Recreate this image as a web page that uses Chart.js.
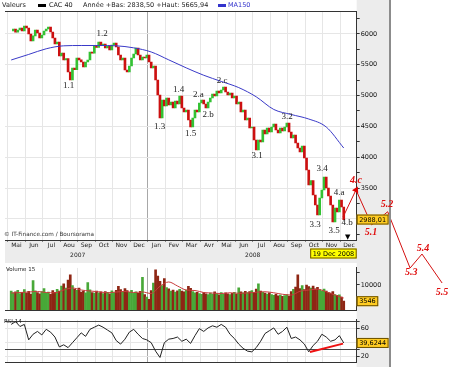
<!DOCTYPE html>
<html>
<head>
<meta charset="utf-8">
<script src="https://cdn.jsdelivr.net/npm/chart.js@4.4.1/dist/chart.umd.min.js"></script>
<style>
html,body{margin:0;padding:0;background:#fff;}
#wrap{position:relative;width:450px;height:367px;overflow:hidden;background:#fff;}
canvas{position:absolute;left:0;display:block;}
.t{position:absolute;white-space:nowrap;font-family:"DejaVu Sans",sans-serif;color:#222;line-height:1;font-size:6.5px;}
.ico{position:absolute;width:8px;height:3px;}
</style>
</head>
<body>
<div id="wrap">
  <canvas id="volCanvas" width="450" height="52" style="top:263px"></canvas>
  <canvas id="rsiCanvas" width="450" height="52" style="top:315px"></canvas>
  <canvas id="priceCanvas" width="450" height="300" style="top:0"></canvas>
  <div class="t" style="left:2px;top:2px">Valeurs</div>
  <div class="ico" style="left:38px;top:4px;background:#000"></div>
  <div class="t" id="serName" style="left:49px;top:2px"></div>
  <div class="t" id="yearRange" style="left:83px;top:2px"></div>
  <div class="ico" style="left:218px;top:4px;background:#3333cc"></div>
  <div class="t" id="maName" style="left:228px;top:2px;color:#3333cc"></div>
</div>
<script>
// ---------------- data ----------------
const seriesName = 'CAC 40';
const maName = 'MA150';
const yearLow = '2838,50', yearHigh = '5665,94';
const lastDateLabel = '19 Dec 2008';

const monthLabels = ['Mai','Jun','Jul','Aou','Sep','Oct','Nov','Dec','Jan','Fev','Mar','Avr','Mai','Jun','Jul','Aou','Sep','Oct','Nov','Dec'];
const yearLabels = ['2007','2008'];
const yearStartIndex = [0, 8];
const priceTickValues = [2750,3000,3250,3500,3750,4000,4250,4500,4750,5000,5250,5500,5750,6000,6250];
const volumeTickValues = [5000,10000,15000];
const rsiTickValues = [20,30,40,60,70];
const rsiRefLevels = [30,70];

// x unit: months after 1 May 2007
const seriesStart = 0.2;
const closeStep = 0.125;
const closes = [
6049,6080,6030,6065,6097,6049,6130,6097,6000,5886,
5968,6065,6016,5935,5984,6049,6081,6114,6032,5935,
5838,5870,5643,5691,5578,5600,5383,5253,5448,5420,
5610,5580,5545,5465,5545,5578,5708,5690,5805,5780,
5870,5821,5838,5773,5805,5740,5821,5854,5789,5659,
5578,5610,5416,5383,5481,5610,5675,5773,5659,5578,
5627,5610,5659,5545,5448,5480,5253,5010,4636,4929,
4831,4961,4847,4896,4799,4912,4864,4994,4799,4734,
4766,4604,4490,4636,4766,4734,4880,4929,4864,4799,
4896,4961,5026,4994,5075,5042,5091,5140,5058,5010,
5042,4961,4994,4864,4896,4734,4766,4604,4636,4474,
4490,4279,4117,4279,4250,4442,4377,4474,4409,4490,
4539,4442,4393,4474,4425,4490,4555,4409,4312,4360,
4230,4149,4084,4182,3987,3792,3549,3620,3386,3224,
3062,3338,3467,3679,3500,3370,3224,2948,3175,3110,
3305,3192,2988.01];

const volumes = [
7600,6900,7300,7900,6600,7100,8200,6800,7500,6400,
11800,7700,7000,6500,7400,8600,6900,7200,6300,7800,
7100,8300,7600,9600,10500,8800,12000,14000,9800,8400,
7900,8800,7200,7600,6900,11000,8100,7000,6800,7600,
6900,7300,6600,7400,7100,6500,7700,7000,7900,9500,
8200,7400,8600,7800,7100,7900,6800,7300,6700,7500,
13000,6200,5200,4300,7800,10800,16000,13500,11500,9800,
12500,9000,8500,7600,8000,7200,7700,8300,7600,7300,
8000,9500,8700,7400,6900,7100,6600,6300,7000,6500,
6200,6800,6400,7300,6600,6100,7000,6300,6900,6500,
6200,6700,7100,6400,8900,7300,6900,7500,7000,7400,
7800,7100,8400,10500,7600,7100,6800,6400,6900,6200,
5900,6300,5700,6000,5500,5800,6200,5600,7400,8300,
9200,14000,8600,9800,8200,10000,9400,8800,9600,8500,
9100,8200,7700,8400,7600,7000,6800,7400,6200,5900,
6100,5200,3546];

const maStep = 1;
const ma150 = [5578,5668,5760,5808,5813,5813,5808,5775,5708,5580,
               5450,5330,5230,5130,4980,4775,4693,4620,4490,4149];

const volMaStep = 0.5;
const volMa15 = [6800,7000,7200,7400,7000,6900,8000,8800,8000,7600,
                 7300,6900,7200,7400,7000,7200,6600,9500,11200,9600,
                 8000,7800,7000,6800,6600,6900,6700,6800,7100,7300,
                 6900,6300,6000,7500,8000,8300,7300,6000,4800];

const rsiStep = 0.25;
const rsi14 = [66,70,63,66,44,52,56,51,59,55,
               48,34,37,33,40,47,54,49,59,62,
               65,62,58,54,43,38,45,55,59,52,
               46,44,40,28,19,40,45,46,48,42,
               45,39,50,60,56,61,64,62,66,62,
               52,46,38,32,28,27,33,42,53,57,
               61,52,56,62,46,48,44,38,27,36,
               42,52,48,42,44,50,39.6244];

const rsiTrendMonths = [17.27, 19.16];
const rsiTrendValues = [26.7, 38.7];

const waveNames  = ['1.1','1.2','1.3','1.4','1.5','2.a','2.b','2.c','3.1','3.2','3.3','3.4','3.5','4.a','4.b'];
const waveMonths = [3.48,5.4,8.68,9.76,10.45,10.9,11.45,12.25,14.25,15.97,17.56,17.96,18.65,18.93,19.39];
const wavePrices = [5155,6008,4498,5091,4377,5010,4685,5237,4020,4653,2900,3808,2802,3419,2932];

const projMonths = [19.16,19.9,20.8,21.71,22.99,23.67,24.82];
const projPrices = [3029,3468,2900,3115,2201,2428,1958];
const projArrow = [0,1,0,0,0,0,1];
const projArrowRotation = [0,26,0,0,0,0,147];
const projLabelNames  = ['4.c','5.1','5.2','5.3','5.4','5.5'];
const projLabelMonths = [19.9,20.76,21.67,23.05,23.73,24.81];
const projLabelPrices = [3630,2786,3240,2136,2526,1812];

// ---------------- setup ----------------
document.getElementById('serName').textContent = seriesName;
document.getElementById('maName').textContent = maName;
document.getElementById('yearRange').textContent = 'Année +Bas: ' + yearLow + ' +Haut: ' + yearHigh;

Chart.defaults.font.family = '"DejaVu Sans", sans-serif';
const X_MIN = -0.154, X_MAX = 19.94, AXIS_W = 93.3, PANEL_RIGHT = 389;
const GREEN = '#33c233', RED = '#cc1010', GRID = '#e6e6e6', JAN_GRID = '#a8a8a8';
const janIdx = monthLabels.indexOf('Jan');
const fmt = v => String(v).replace('.', ',');

function monthGridAxis(extra) {
  return Object.assign({
    type: 'linear', bounds: 'data', offset: false,
    afterDataLimits: s => { s.min = X_MIN; s.max = X_MAX; },
    afterBuildTicks: s => { s.ticks = monthLabels.map((_, k) => ({value: k + 0.5})); },
    grid: { offset: true, color: c => c.index === janIdx ? JAN_GRID : GRID, drawTicks: false },
    border: { display: true, color: '#333' },
    ticks: { display: false, autoSkip: false }
  }, extra || {});
}

const frame = {
  id: 'frame',
  beforeDraw(chart, _a, o) {
    const {ctx, chartArea: a} = chart;
    ctx.save();
    ctx.fillStyle = '#ececec';
    ctx.fillRect(a.right, 0, PANEL_RIGHT - a.right, o.grayHeight || chart.height);
    if (o.band) ctx.fillRect(a.left, a.bottom, PANEL_RIGHT - a.left, o.band);
    ctx.fillStyle = '#fff';
    ctx.fillRect(a.left, a.top, a.width, a.height);
    ctx.restore();
  },
  afterDraw(chart, _a, o) {
    const {ctx, chartArea: a} = chart;
    ctx.save();
    ctx.strokeStyle = '#8c8c8c'; ctx.lineWidth = 2;
    ctx.beginPath(); ctx.moveTo(PANEL_RIGHT + 1, 0); ctx.lineTo(PANEL_RIGHT + 1, o.grayHeight || chart.height); ctx.stroke();
    if (o.topBorder) {
      ctx.strokeStyle = '#333'; ctx.lineWidth = 1;
      ctx.beginPath(); ctx.moveTo(a.left, a.top + 0.5); ctx.lineTo(a.right, a.top + 0.5); ctx.stroke();
    }
    (o.texts || []).forEach(t => {
      ctx.font = t.font; ctx.fillStyle = t.color || '#222';
      ctx.textAlign = 'left'; ctx.textBaseline = 'middle';
      ctx.fillText(t.text, t.x, t.y);
    });
    (o.boxes || []).forEach(b => {
      const y = b.y !== undefined ? b.y : chart.scales[b.scale].getPixelForValue(b.value);
      ctx.font = '6.5px "DejaVu Sans"';
      const w = ctx.measureText(b.text).width + 5;
      const x = b.alignRight ? a.right - w : a.right;
      ctx.fillStyle = b.fill; ctx.fillRect(x, y - 5, w, 10);
      ctx.strokeStyle = '#6b5000'; ctx.lineWidth = 1; ctx.strokeRect(x + 0.5, y - 4.5, w - 1, 9);
      ctx.fillStyle = '#000'; ctx.textAlign = 'left'; ctx.textBaseline = 'middle';
      ctx.fillText(b.text, x + 2.5, y + 0.5);
    });
    ctx.restore();
  }
};

const waveText = {
  id: 'waveText',
  afterDraw(chart, _a, o) {
    if (!o.groups) return;
    const {ctx} = chart; const xs = chart.scales.x, ys = chart.scales.y;
    ctx.save();
    o.groups.forEach(g => {
      ctx.font = g.font; ctx.fillStyle = g.color; ctx.textAlign = 'center'; ctx.textBaseline = 'middle';
      g.names.forEach((n, i) => ctx.fillText(n, xs.getPixelForValue(g.months[i]), ys.getPixelForValue(g.prices[i])));
    });
    ctx.restore();
  }
};

// ---------------- price chart ----------------
const priceBars = [];
for (let i = 1; i < closes.length; i++) priceBars.push({x: seriesStart + i * closeStep, y: [closes[i - 1], closes[i]]});
const yearCenters = yearLabels.map((_, k) => (yearStartIndex[k] + (k + 1 < yearStartIndex.length ? yearStartIndex[k + 1] : monthLabels.length)) / 2);

new Chart(document.getElementById('priceCanvas'), {
  type: 'bar',
  data: {
    datasets: [
      { type: 'line', label: 'proj', data: projMonths.map((m, i) => ({x: m, y: projPrices[i]})),
        borderColor: '#d41010', borderWidth: 1, tension: 0, clip: false,
        pointStyle: 'triangle', pointRadius: projArrow.map(a => a ? 4 : 0), pointRotation: projArrowRotation,
        pointBackgroundColor: '#e00000', pointBorderColor: '#e00000', pointBorderWidth: 0 },
      { type: 'line', label: maName, data: ma150.map((v, k) => ({x: seriesStart + k * maStep, y: v})),
        borderColor: '#3a3ac8', borderWidth: 1, pointRadius: 0, cubicInterpolationMode: 'monotone' },
      { type: 'bar', label: seriesName, data: priceBars, barThickness: 2, minBarLength: 1,
        backgroundColor: c => (c.raw && c.raw.y[1] >= c.raw.y[0]) ? GREEN : RED }
    ]
  },
  options: {
    responsive: false, animation: false, devicePixelRatio: 1,
    layout: { padding: { left: 5, top: 11, right: 0, bottom: 37 } },
    plugins: {
      legend: { display: false }, tooltip: { enabled: false },
      frame: { grayHeight: 263, band: 23, topBorder: true,
        texts: [ { text: '© IT-Finance.com / Boursorama', x: 4, y: 235, font: '5.7px "DejaVu Sans"', color: '#333' },
                 { text: '▼', x: 345, y: 237, font: '7px "DejaVu Sans"', color: '#000' } ],
        boxes: [ { scale: 'y', value: closes[closes.length - 1], text: fmt(closes[closes.length - 1].toFixed(2)), fill: '#ffcc22' },
                 { y: 253.5, alignRight: true, text: lastDateLabel, fill: '#ffff00' } ] },
      waveText: { groups: [
        { names: waveNames, months: waveMonths, prices: wavePrices, font: '9px "Liberation Serif"', color: '#222' },
        { names: projLabelNames, months: projLabelMonths, prices: projLabelPrices, font: 'italic bold 10px "Liberation Serif"', color: '#e01010' } ] }
    },
    scales: {
      x: monthGridAxis({
        position: 'bottom', weight: 0,
        afterFit: s => { s.height = 10; },
        grid: { offset: true, color: c => c.index === janIdx ? JAN_GRID : GRID, drawTicks: true, tickLength: 2, tickColor: '#888' },
        ticks: { display: true, autoSkip: false, maxRotation: 0, padding: 0, color: '#222', font: { size: 6 },
                 callback: (v, k) => monthLabels[k] }
      }),
      x2: { type: 'linear', position: 'bottom', weight: 1, offset: false, min: X_MIN, max: X_MAX, bounds: 'data',
        afterBuildTicks: s => { s.ticks = yearCenters.map(v => ({value: v})); },
        afterFit: s => { s.height = 13; },
        grid: { display: false, drawTicks: false, offset: false }, border: { display: false },
        ticks: { autoSkip: false, maxRotation: 0, padding: 2, color: '#222', font: { size: 6 }, callback: (v, k) => yearLabels[k] } },
      y: { position: 'right', min: 2656, max: 6373,
        afterBuildTicks: s => { s.ticks = priceTickValues.map(v => ({value: v})); },
        afterFit: s => { s.width = AXIS_W; },
        grid: { color: c => (c.tick && c.tick.value % 500 === 0) ? GRID : 'rgba(0,0,0,0)', tickColor: '#333', tickLength: 3 },
        border: { display: true, color: '#333' },
        ticks: { autoSkip: false, padding: 1, color: '#111', font: { size: 6.5 }, callback: v => (v % 500 === 0 ? String(v) : '') } }
    }
  },
  plugins: [frame, waveText]
});

// ---------------- volume chart ----------------
const volBars = volumes.map((v, i) => ({x: seriesStart + i * closeStep, y: v, up: i === 0 || closes[i] >= closes[i - 1]}));
new Chart(document.getElementById('volCanvas'), {
  type: 'bar',
  data: {
    datasets: [
      { type: 'line', data: volMa15.map((v, k) => ({x: seriesStart + k * volMaStep, y: v})),
        borderColor: '#c83c3c', borderWidth: 1, pointRadius: 0, cubicInterpolationMode: 'monotone' },
      { type: 'bar', data: volBars, barThickness: 2,
        backgroundColor: c => (c.raw && c.raw.up) ? '#48a838' : '#8e2614' }
    ]
  },
  options: {
    responsive: false, animation: false, devicePixelRatio: 1,
    layout: { padding: { left: 5, top: 1, right: 0, bottom: 4 } },
    plugins: { legend: { display: false }, tooltip: { enabled: false },
      frame: { texts: [ { text: 'Volume 15', x: 6, y: 7, font: '5.5px "DejaVu Sans"', color: '#222' } ],
               boxes: [ { scale: 'y', value: volumes[volumes.length - 1], text: String(volumes[volumes.length - 1]), fill: '#ffcc22' } ] } },
    scales: {
      x: monthGridAxis({ afterFit: s => { s.height = 0; } }),
      y: { position: 'right', min: 0, max: 16800,
        afterBuildTicks: s => { s.ticks = volumeTickValues.map(v => ({value: v})); },
        afterFit: s => { s.width = AXIS_W; },
        grid: { color: 'rgba(0,0,0,0)', tickColor: '#333', tickLength: 3 },
        border: { display: true, color: '#333' },
        ticks: { autoSkip: false, padding: 1, color: '#111', font: { size: 6.5 }, callback: v => (v === 10000 ? String(v) : '') } }
    }
  },
  plugins: [frame]
});

// ---------------- RSI chart ----------------
new Chart(document.getElementById('rsiCanvas'), {
  type: 'line',
  data: {
    datasets: [
      { data: rsiTrendMonths.map((m, i) => ({x: m, y: rsiTrendValues[i]})), borderColor: '#ee1111', borderWidth: 2, pointRadius: 0 },
      { data: rsi14.map((v, k) => ({x: seriesStart + k * rsiStep, y: v})), borderColor: '#222', borderWidth: 1, pointRadius: 0, tension: 0 }
    ]
  },
  options: {
    responsive: false, animation: false, devicePixelRatio: 1,
    layout: { padding: { left: 5, top: 4, right: 0, bottom: 3 } },
    plugins: { legend: { display: false }, tooltip: { enabled: false },
      frame: { texts: [ { text: 'RSI 14', x: 4, y: 7, font: '5.5px "DejaVu Sans"', color: '#222' } ],
               boxes: [ { scale: 'y', value: rsi14[rsi14.length - 1], text: fmt(rsi14[rsi14.length - 1]), fill: '#ffcc22' } ] } },
    scales: {
      x: monthGridAxis({ afterFit: s => { s.height = 0; } }),
      y: { position: 'right', min: 12.4, max: 72.4,
        afterBuildTicks: s => { s.ticks = rsiTickValues.map(v => ({value: v})); },
        afterFit: s => { s.width = AXIS_W; },
        grid: { color: c => (c.tick && rsiRefLevels.includes(c.tick.value)) ? '#444' : GRID, tickColor: '#333', tickLength: 3 },
        border: { display: true, color: '#333' },
        ticks: { autoSkip: false, padding: 1, color: '#111', font: { size: 6.5 }, callback: v => (rsiRefLevels.includes(v) ? '' : String(v)) } }
    }
  },
  plugins: [frame]
});
</script>
</body>
</html>
